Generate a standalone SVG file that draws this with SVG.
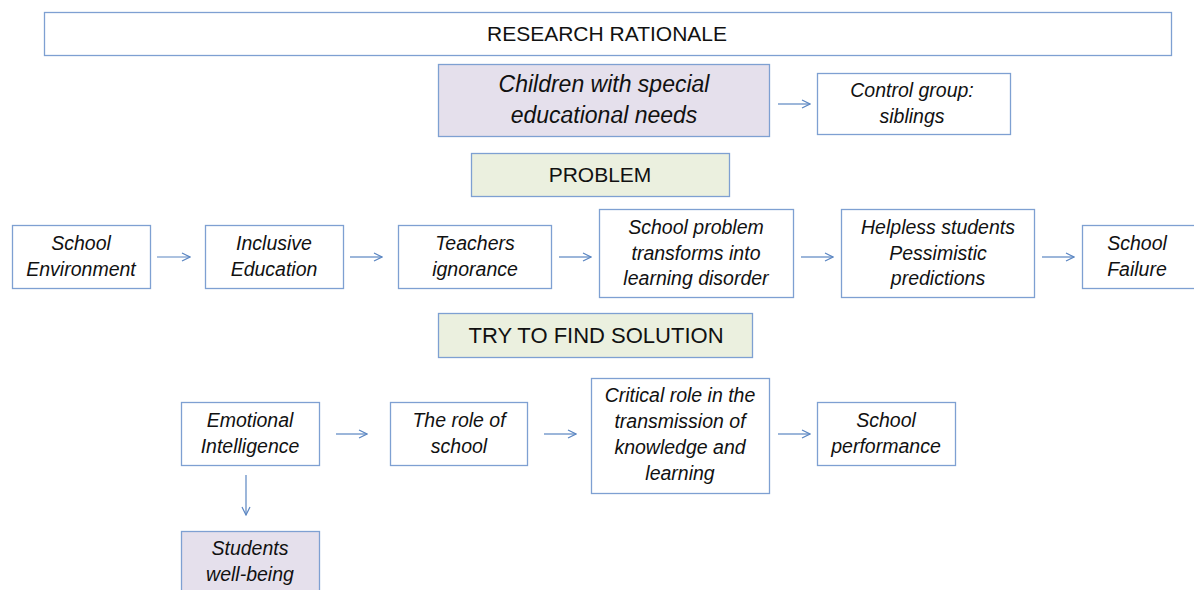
<svg xmlns="http://www.w3.org/2000/svg" width="1194" height="590" viewBox="0 0 1194 590">
<defs>
<marker id="ah" markerWidth="10" markerHeight="10" refX="9" refY="5" orient="auto" markerUnits="userSpaceOnUse">
<path d="M1,1 L9,5 L1,9" fill="none" stroke="#5b86c2" stroke-width="1.2"/>
</marker>
<style>
.box{fill:#ffffff;stroke:#7ea0d2;stroke-width:1.3}
.lav{fill:#e5e0ec;stroke:#7ea0d2;stroke-width:1.3}
.grn{fill:#ebf0df;stroke:#7ea0d2;stroke-width:1.3}
.t{font-family:"Liberation Sans",Arial,sans-serif;font-style:italic;font-size:19.5px;fill:#111;text-anchor:middle}
.tb{font-family:"Liberation Sans",Arial,sans-serif;font-style:italic;font-size:23px;fill:#111;text-anchor:middle}
.h{font-family:"Liberation Sans",Arial,sans-serif;font-size:21px;fill:#111;text-anchor:middle}
.c{stroke:#5b86c2;stroke-width:1.2;fill:none;marker-end:url(#ah)}
</style>
</defs>
<rect width="1194" height="590" fill="#ffffff"/>

<g id="rationale"><rect class="box" x="44.5" y="12.5" width="1127" height="43"/><text class="h" x="607" y="41">RESEARCH RATIONALE</text></g>
<g id="children"><rect class="lav" x="438.5" y="64.5" width="331" height="72"/><text class="tb" x="604" y="92">Children with special</text><text class="tb" x="604" y="123">educational needs</text></g>
<g id="control"><rect class="box" x="817.5" y="73.5" width="193" height="61"/><text class="t" x="912" y="97">Control group:</text><text class="t" x="912" y="123">siblings</text></g>
<g id="problem"><rect class="grn" x="471.5" y="153.5" width="258" height="43"/><text class="h" x="600" y="182">PROBLEM</text></g>

<g id="school-env"><rect class="box" x="12.5" y="225.5" width="138" height="63"/><text class="t" x="81" y="250">School</text><text class="t" x="81" y="276">Environment</text></g>
<g id="inclusive"><rect class="box" x="205.5" y="225.5" width="138" height="63"/><text class="t" x="274" y="250">Inclusive</text><text class="t" x="274" y="276">Education</text></g>
<g id="teachers"><rect class="box" x="398.5" y="225.5" width="153" height="63"/><text class="t" x="475" y="250">Teachers</text><text class="t" x="475" y="276">ignorance</text></g>
<g id="school-problem"><rect class="box" x="599.5" y="209.5" width="194" height="88"/><text class="t" x="696" y="234">School problem</text><text class="t" x="696" y="260">transforms into</text><text class="t" x="696" y="285">learning disorder</text></g>
<g id="helpless"><rect class="box" x="841.5" y="209.5" width="193" height="88"/><text class="t" x="938" y="234">Helpless students</text><text class="t" x="938" y="260">Pessimistic</text><text class="t" x="938" y="285">predictions</text></g>
<g id="school-failure"><rect class="box" x="1082.5" y="225.5" width="120" height="63"/><text class="t" x="1137" y="250">School</text><text class="t" x="1137" y="276">Failure</text></g>

<g id="solution"><rect class="grn" x="438.5" y="313.5" width="314" height="44"/><text class="h" x="596" y="343" style="font-size:22px">TRY TO FIND SOLUTION</text></g>

<g id="emotional"><rect class="box" x="181.5" y="402.5" width="138" height="63"/><text class="t" x="250" y="427">Emotional</text><text class="t" x="250" y="453">Intelligence</text></g>
<g id="role-school"><rect class="box" x="390.5" y="402.5" width="137" height="63"/><text class="t" x="459" y="427">The role of</text><text class="t" x="459" y="453">school</text></g>
<g id="critical"><rect class="box" x="591.5" y="378.5" width="178" height="115"/><text class="t" x="680" y="402">Critical role in the</text><text class="t" x="680" y="428">transmission of</text><text class="t" x="680" y="454">knowledge and</text><text class="t" x="680" y="480">learning</text></g>
<g id="performance"><rect class="box" x="817.5" y="402.5" width="138" height="63"/><text class="t" x="886" y="427">School</text><text class="t" x="886" y="453">performance</text></g>
<g id="wellbeing"><rect class="lav" x="181.5" y="531.5" width="138" height="70"/><text class="t" x="250" y="555">Students</text><text class="t" x="250" y="581">well-being</text></g>

<g id="connectors">
<line class="c" x1="778" y1="104" x2="810" y2="104"/>
<line class="c" x1="157" y1="257" x2="190" y2="257"/>
<line class="c" x1="350" y1="257" x2="382" y2="257"/>
<line class="c" x1="559" y1="257" x2="591" y2="257"/>
<line class="c" x1="801" y1="257" x2="833" y2="257"/>
<line class="c" x1="1042" y1="257" x2="1074" y2="257"/>
<line class="c" x1="336" y1="434" x2="367" y2="434"/>
<line class="c" x1="544" y1="434" x2="576" y2="434"/>
<line class="c" x1="778" y1="434" x2="810" y2="434"/>
<line class="c" x1="246" y1="475" x2="246" y2="515"/>
</g>
</svg>
